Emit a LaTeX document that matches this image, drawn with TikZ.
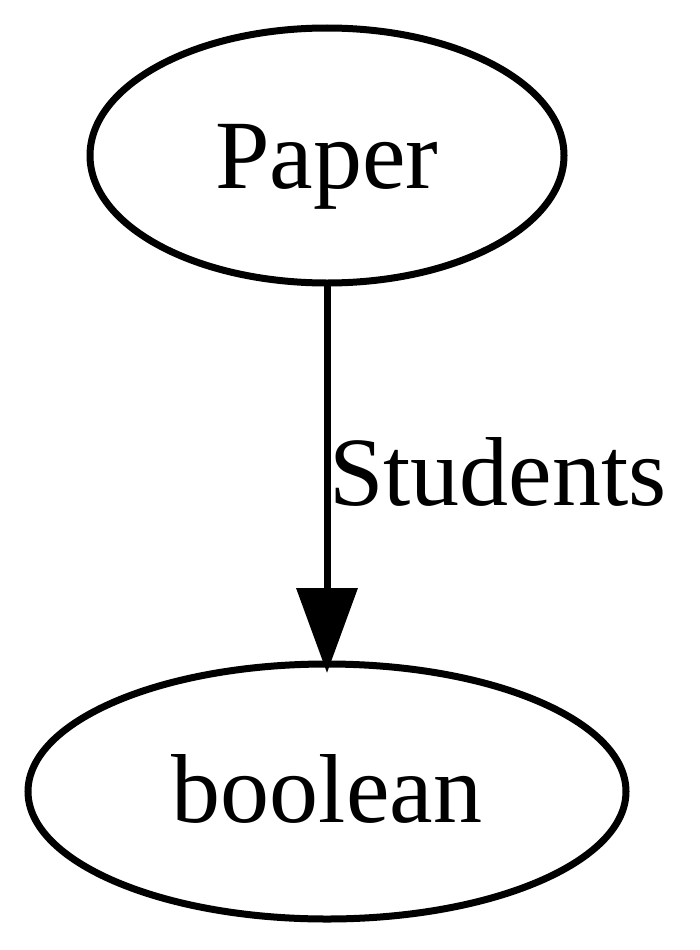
\documentclass[tikz,border=0pt]{standalone}
\usepackage{fontspec}
\setmainfont{Liberation Serif}
\usetikzlibrary{shapes.geometric,arrows.meta}
\begin{document}
\begin{tikzpicture}[x=1pt,y=-1pt,
  gnode/.style={ellipse,draw,line width=7pt,inner sep=0pt,outer sep=0pt,text depth=0pt,font=\fontsize{98}{100}\selectfont},
  edge/.style={line width=7pt,-{Triangle[length=85pt,width=60pt]}},
  elabel/.style={font=\fontsize{98}{100}\selectfont,inner sep=0pt}]
\useasboundingbox (0,0) rectangle (700,950);
\node[gnode,minimum width=474pt,minimum height=255pt,text height=65pt] (paper) at (327,155.5) {Paper};
\node[gnode,minimum width=598pt,minimum height=255pt,text height=61pt] (bool) at (327,791.5) {boolean};
\draw[edge,shorten >=-9pt] (paper.south) -- (bool.north);
\node[elabel,anchor=base west] (lab) at (329,505) {Students};
\end{tikzpicture}
\end{document}
